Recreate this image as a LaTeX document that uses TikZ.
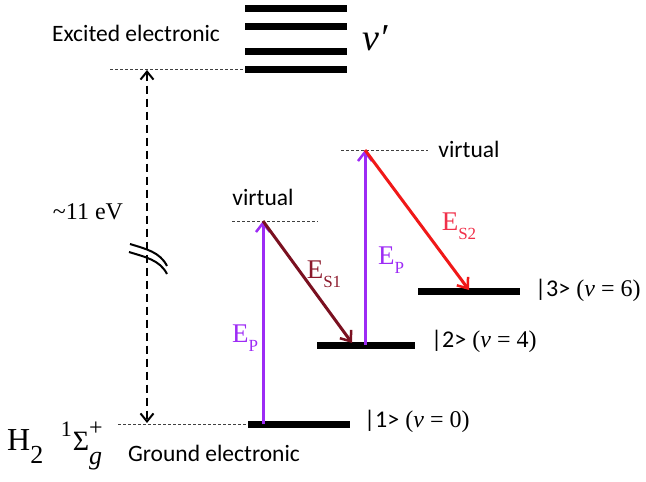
\documentclass[tikz,border=0pt]{standalone}
\usepackage{fontspec}
\setmainfont{Liberation Serif}
\newfontfamily\calib{Carlito}
\usetikzlibrary{arrows.meta}
\definecolor{pump}{HTML}{9D2BF5}
\definecolor{sone}{HTML}{7A1020}
\definecolor{sonetext}{HTML}{8C1A2C}
\definecolor{stwo}{HTML}{F01818}
\definecolor{stwotext}{HTML}{F0304A}
\tikzset{
  level/.style={line width=7pt},
  guide/.style={densely dashed, line width=0.7pt, black!75},
  trans/.style={line width=3pt, -{Straight Barb[length=9pt,width=14pt,line width=2.5pt]}},
  sanslabel/.style={font=\calib\fontsize{23.5}{27}\selectfont, inner sep=0pt},
  seriflabel/.style={font=\rmfamily\fontsize{24}{28}\selectfont, inner sep=0pt},
  elabel/.style={font=\fontsize{27}{31}\selectfont, inner sep=0pt},
}
\newcommand{\esub}[1]{E\raisebox{-0.33em}{\fontsize{17}{19}\selectfont #1}}
\newcommand{\ketlab}[2]{{\calib #1}\ \rmfamily(\textit{ν} = #2)}
\begin{document}
\begin{tikzpicture}[x=1pt,y=-1pt]
\useasboundingbox (0,0) rectangle (646,482);
% excited levels
\foreach \yy/\nm in {8/a,26/b,51/c,69/d}{
  \coordinate (ex\nm L) at (245,\yy);
  \coordinate (ex\nm R) at (347,\yy);
  \draw[level] (ex\nm L) -- (ex\nm R);
}
\coordinate (exdash) at (110,69);
\draw[guide] (exdash) -- (exdL);
% ground level
\coordinate (gL) at (248,424);
\coordinate (gR) at (350,424);
\coordinate (gdash) at (118,424);
\draw[guide] (gdash) -- (gL);
\draw[level] (gL) -- (gR);
% level 2, 3
\coordinate (twoL) at (317,345);
\coordinate (twoR) at (415,345);
\draw[level] (twoL) -- (twoR);
\coordinate (threeL) at (418,291);
\coordinate (threeR) at (520,291);
\draw[level] (threeL) -- (threeR);
% virtual levels
\coordinate (vaL) at (232,221);
\coordinate (vaR) at (318,221);
\draw[guide] (vaL) -- (vaR);
\coordinate (vbL) at (341,150);
\coordinate (vbR) at (428,150);
\draw[guide] (vbL) -- (vbR);
% big dashed arrow
\coordinate (bigtop) at (147,70);
\coordinate (bigbot) at (147,423);
\draw[line width=2.3pt, dash pattern=on 8pt off 5pt,
  {Straight Barb[length=8pt,width=13pt,line width=2pt]}-{Straight Barb[length=8pt,width=13pt,line width=2pt]}]
  (bigtop) -- (bigbot);
% break mark
\draw[line width=2pt] (130,244) .. controls (146,249) and (160,252) .. (167,266);
\draw[line width=2pt] (129,252) .. controls (145,257) and (160,260) .. (167,274);
% transitions
\coordinate (p1s) at (263,424);
\coordinate (p1e) at (263,221);
\coordinate (s1e) at (352,343);
\coordinate (p2s) at (365,345);
\coordinate (p2e) at (365,150);
\coordinate (s2e) at (469,290);
\draw[trans, pump] (p1s) -- (p1e);
\draw[trans, sone] (p1e) -- (s1e);
\draw[trans, pump] (p2s) -- (p2e);
\draw[trans, stwo] (p2e) -- (s2e);
% labels
\node[sanslabel] (lexc) at (136,33) {Excited electronic};
\node[font=\itshape\fontsize{38}{42}\selectfont, inner sep=0pt] (lnu) at (375,38) {ν′};
\node[seriflabel] (lev) at (88,212) {\textasciitilde 11 eV};
\node[sanslabel] (lva) at (263,197) {virtual};
\node[sanslabel] (lvb) at (469,149) {virtual};
\node[seriflabel, anchor=west] (l1) at (364,421) {\ketlab{|1>}{0}};
\node[seriflabel, anchor=west] (l2) at (431,341) {\ketlab{|2>}{4}};
\node[seriflabel, anchor=west] (l3) at (535,290) {\ketlab{|3>}{6}};
\node[sanslabel] (lgr) at (214,453) {Ground electronic};
\node[font=\fontsize{32}{36}\selectfont, inner sep=0pt, anchor=west] (lh2) at (7,446)
  {H\raisebox{-0.38em}{\fontsize{26}{28}\selectfont 2}\hspace{0.55em}\raisebox{0.45em}{\fontsize{22}{24}\selectfont 1}\hspace{0.03em}{\fontsize{28}{30}\selectfont Σ}\rlap{\raisebox{0.48em}{\fontsize{24}{26}\selectfont +}}\raisebox{-0.42em}{\fontsize{26}{28}\selectfont\itshape g}};
\node[elabel, pump] (lep1) at (245,338) {\esub{P}};
\node[elabel, pump] (lep2) at (391,260) {\esub{P}};
\node[elabel, sonetext] (les1) at (324,274) {\esub{S1}};
\node[elabel, stwotext] (les2) at (459,226) {\esub{S2}};
\end{tikzpicture}
\end{document}
